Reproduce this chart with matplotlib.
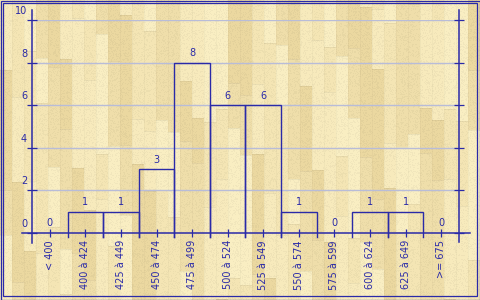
import numpy as np
import matplotlib
matplotlib.use("Agg")
import matplotlib.pyplot as plt
from matplotlib.lines import Line2D
from matplotlib.patches import Rectangle

# ---- data ----
categories = ["< 400", "400 à 424", "425 à 449", "450 à 474", "475 à 499",
              "500 à 524", "525 à 549", "550 à 574", "575 à 599",
              "600 à 624", "625 à 649", ">= 675"]
counts = [0, 1, 1, 3, 8, 6, 6, 1, 0, 1, 1, 0]
yticks = [0, 2, 4, 6, 8, 10]

W, H = 480, 300
BLUE = "#2a2aa8"
GRID = "#b8bcd8"

fig = plt.figure(figsize=(W / 100, H / 100), dpi=100)

# ---- wood background (deterministic plank pattern) ----
tones = np.array([[247, 234, 188], [239, 222, 170], [244, 229, 180], [235, 216, 160], [249, 238, 194]], float)
seg_lengths = [70, 120, 45, 150, 85, 100, 60, 130]
img = np.zeros((H, W, 3))
pw = 12
yy, xx = np.mgrid[0:H, 0:W]
for c in range(W // pw + 1):
    x0 = c * pw
    x1 = min(W, x0 + pw)
    if x0 >= W:
        break
    y = -((c * 53) % 97)
    k = 0
    while y < H:
        L = seg_lengths[(c * 3 + k) % len(seg_lengths)]
        t = tones[(c * 2 + k * 3) % len(tones)]
        ya, yb = max(0, y), min(H, y + L)
        if yb > ya:
            img[ya:yb, x0:x1] = t
            if ya > 0:
                img[ya, x0:x1] = t * 0.95
        y += L
        k += 1
    img[:, x0] *= 0.975
grain = ((xx * 73856093) ^ (yy * 19349663)) % 11
img *= (1.0 - 0.03 * (grain > 7))[..., None]
img = np.clip(img / 255.0, 0, 1)
bg = fig.add_axes([0, 0, 1, 1], zorder=-10)
bg.imshow(img, aspect="auto", interpolation="nearest", extent=[0, W, H, 0])
bg.set_axis_off()

# ---- main axes ----
ax_l, ax_r = 32, 459
ax_top, ax_bot = 20.3, 233
ax = fig.add_axes([ax_l / W, (H - ax_bot) / H, (ax_r - ax_l) / W, (ax_bot - ax_top) / H])
ax.patch.set_alpha(0)
n = len(categories)
x = np.arange(n)
ax.set_xlim(-0.5, n - 0.5)
ax.set_ylim(0, 10)
for s in ax.spines.values():
    s.set_visible(False)

# grid
for v in yticks[1:]:
    ax.axhline(v, color=GRID, lw=1.0, zorder=1)

# axis lines (extended beyond plot area)
px_x = 1.0 / (ax_r - ax_l)
px_y = 1.0 / (ax_bot - ax_top)
ax.add_line(Line2D([0, 0], [-10 * px_y, 1 + 10 * px_y], transform=ax.transAxes, color=BLUE, lw=1.1, clip_on=False, zorder=5))
ax.add_line(Line2D([1, 1], [-9 * px_y, 1 + 10 * px_y], transform=ax.transAxes, color=BLUE, lw=1.1, clip_on=False, zorder=5))
ax.add_line(Line2D([-10 * px_x, 1 + 11 * px_x], [0, 0], transform=ax.transAxes, color=BLUE, lw=1.1, clip_on=False, zorder=5))

# ticks
ax.set_yticks(yticks)
ax.set_xticks(x)
ax.tick_params(axis="y", which="both", direction="inout", length=6.5, width=0.9, color=BLUE,
               left=True, right=True, labelleft=False, labelright=False)
ax.tick_params(axis="x", which="both", direction="inout", length=5.8, width=0.9, color=BLUE,
               bottom=True, labelbottom=False)

# bars as outlines
below = 4.0 / 21.27
for i, v in enumerate(counts):
    if v > 0:
        ax.plot([i - 0.5, i - 0.5, i + 0.5, i + 0.5], [-below, v, v, -below],
                color=BLUE, lw=1.0, clip_on=False, zorder=4, solid_joinstyle="miter")

fs = 7
# value labels
for i, v in enumerate(counts):
    ax.annotate(str(v), xy=(i, v), xytext=(0, 9.5), textcoords="offset pixels",
                ha="center", va="center", fontsize=fs, color=BLUE)

# y tick labels
for v in yticks:
    ax.annotate(str(v), xy=(-0.5, v), xytext=(-5, 9), textcoords="offset pixels",
                ha="right", va="center", fontsize=fs, color=BLUE, annotation_clip=False)

# x tick labels
for i, c in enumerate(categories):
    ax.annotate(c, xy=(i, 0), xytext=(0, -7), textcoords="offset pixels",
                ha="center", va="top", rotation=90, fontsize=fs, color=BLUE, annotation_clip=False)

# double border
fr = fig.add_axes([0, 0, 1, 1], zorder=20)
fr.set_xlim(0, W)
fr.set_ylim(H, 0)
fr.set_axis_off()
fr.patch.set_alpha(0)
fr.add_patch(Rectangle((0.5, 0.5), W - 1, H - 1, fill=False, ec=BLUE, lw=0.9))
fr.add_patch(Rectangle((3, 3), 474, 292.5, fill=False, ec=BLUE, lw=0.9))

fig.savefig("out.png", dpi=100)
